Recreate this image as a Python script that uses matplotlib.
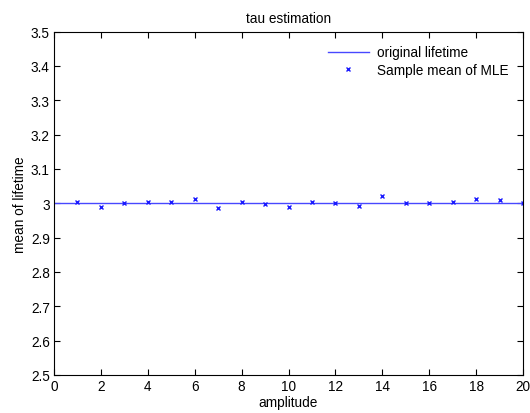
import matplotlib
matplotlib.use("Agg")
import matplotlib.pyplot as plt
import numpy as np
from matplotlib.ticker import FuncFormatter

plt.rcParams['font.family'] = ['Liberation Sans', 'DejaVu Sans']

amplitude = [1, 2, 3, 4, 5, 6, 7, 8, 9, 10, 11, 12, 13, 14, 15, 16, 17, 18, 19, 20]
sample_mean = [3.005, 2.990, 3.000, 3.005, 3.003, 3.011, 2.987, 3.005, 2.997, 2.990,
               3.003, 3.000, 2.993, 3.020, 3.000, 3.002, 3.005, 3.011, 3.009, 3.000]
true_tau = 3.0
x_line = [0, 20]
xticks = [0, 2, 4, 6, 8, 10, 12, 14, 16, 18, 20]
yticks = [2.5, 2.6, 2.7, 2.8, 2.9, 3.0, 3.1, 3.2, 3.3, 3.4, 3.5]

fs = 9.8
fig = plt.figure(figsize=(5.3, 4.14), dpi=100)
ax = fig.add_axes([54/530, 1-376/414, (523-54)/530, (376-32.5)/414])

ax.plot(x_line, [true_tau, true_tau], color='#4848ff', lw=1.0, label='original lifetime')
ax.plot(amplitude, sample_mean, linestyle='none', marker='x', color='#1a1aff',
        markersize=3.5, markeredgewidth=1.0, label='Sample mean of MLE')

ax.set_xlim(0, 20)
ax.set_ylim(2.5, 3.5)
ax.set_xticks(xticks)
ax.set_yticks(yticks)
ax.yaxis.set_major_formatter(FuncFormatter(lambda v, p: f"{v:g}"))
ax.tick_params(direction='in', top=True, right=True, length=4, width=0.8, labelsize=fs, pad=3)
for s in ax.spines.values():
    s.set_linewidth(0.8)
ax.set_title('tau estimation', fontsize=fs, pad=7)
ax.set_xlabel('amplitude', fontsize=fs, labelpad=1)
ax.set_ylabel('mean of lifetime', fontsize=fs, labelpad=3)
ax.legend(loc='upper right', bbox_to_anchor=(0.995, 0.995), frameon=False, fontsize=fs,
          handlelength=3.0, borderaxespad=0.5, labelspacing=0.25, handletextpad=0.6)

fig.savefig('out.png', dpi=100)
